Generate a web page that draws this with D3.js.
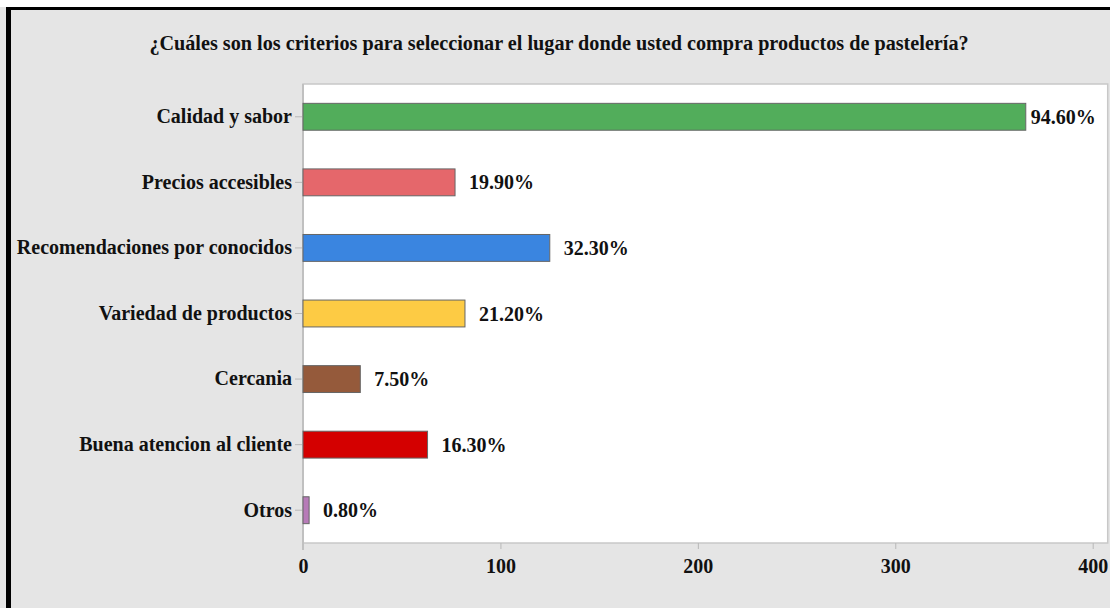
<!DOCTYPE html>
<html>
<head>
<meta charset="utf-8">
<script src="https://cdn.jsdelivr.net/npm/d3@7"></script>
<style>
  html, body { margin: 0; padding: 0; background: #ffffff; }
  svg { display: block; }
  text { font-family: "Liberation Serif", "Times New Roman", serif; font-weight: bold; fill: #111; }
</style>
</head>
<body>
<svg id="chart" width="1110" height="608"></svg>
<script>
// Survey answers: share of respondents choosing each criterion
const title = "¿Cuáles son los criterios para seleccionar el lugar donde usted compra productos de pastelería?";
const categories = [
  "Calidad y sabor",
  "Precios accesibles",
  "Recomendaciones por conocidos",
  "Variedad de productos",
  "Cercania",
  "Buena atencion al cliente",
  "Otros"
];
const percentages = [94.6, 19.9, 32.3, 21.2, 7.5, 16.3, 0.8];
const totalRespondents = 387;
const barColors = ["#52ad5b", "#e5676b", "#3a85e0", "#fdcb44", "#955a3b", "#d40000", "#b77bb8"];
const xTickValues = [0, 100, 200, 300, 400];

const W = 1110, H = 608;
const plot = { left: 303, top: 84, right: 1107.7, bottom: 543 };

const svg = d3.select("#chart");

// Page frame: light gray panel with a dark rule on top and left
svg.append("rect").attr("x", 0).attr("y", 7).attr("width", W).attr("height", H - 7).attr("fill", "#e5e5e5");
svg.append("rect").attr("x", 6).attr("y", 7).attr("width", W - 6).attr("height", 3).attr("fill", "#000");
svg.append("rect").attr("x", 6).attr("y", 7).attr("width", 5).attr("height", H - 7).attr("fill", "#000");

svg.append("text")
  .attr("x", 559).attr("y", 50)
  .attr("text-anchor", "middle")
  .style("font-size", "20.2px")
  .text(title);

const x = d3.scaleLinear().domain([0, 400]).range([plot.left, 1092.7]);
const y = d3.scaleBand().domain(categories).range([plot.top, plot.bottom])
  .paddingInner(0.59).paddingOuter(0.295);

// Plot area
svg.append("rect")
  .attr("x", plot.left).attr("y", plot.top)
  .attr("width", plot.right - plot.left).attr("height", plot.bottom - plot.top)
  .attr("fill", "#fff").attr("stroke", "#c8c8c8").attr("stroke-width", 1.5);

// Axes
const xAxis = svg.append("g")
  .attr("transform", `translate(0,${plot.bottom})`)
  .call(d3.axisBottom(x).tickValues(xTickValues).tickSize(6).tickSizeOuter(0).tickPadding(10).tickFormat(d3.format("d")));
xAxis.select(".domain").remove();
xAxis.selectAll(".tick line").attr("stroke", "#b8b8b8");
xAxis.selectAll(".tick text").style("font-size", "20px").attr("fill", "#111");

const yAxis = svg.append("g")
  .attr("transform", `translate(${plot.left},0)`)
  .call(d3.axisLeft(y).tickSize(8).tickSizeOuter(0).tickPadding(3));
yAxis.select(".domain").remove();
yAxis.selectAll(".tick line").attr("stroke", "#b8b8b8");
yAxis.selectAll(".tick text").style("font-size", "20px").attr("fill", "#111");

// Vertical axis rule running past the plot bottom
svg.append("line")
  .attr("x1", plot.left).attr("x2", plot.left)
  .attr("y1", plot.top).attr("y2", plot.bottom + 7)
  .attr("stroke", "#c0c0c0").attr("stroke-width", 2);

const rows = categories.map((c, i) => ({
  category: c,
  pct: percentages[i],
  count: percentages[i] / 100 * totalRespondents,
  color: barColors[i]
}));

svg.append("g").selectAll("rect")
  .data(rows)
  .join("rect")
  .attr("x", x(0))
  .attr("y", d => y(d.category))
  .attr("width", d => x(d.count) - x(0))
  .attr("height", y.bandwidth())
  .attr("fill", d => d.color)
  .attr("stroke", "#666")
  .attr("stroke-width", 1);

// Value labels after each bar, kept inside the plot area
const labels = svg.append("g").selectAll("text")
  .data(rows)
  .join("text")
  .attr("y", d => y(d.category) + y.bandwidth() / 2)
  .attr("dy", "0.35em")
  .style("font-size", "20px")
  .text(d => d.pct.toFixed(2) + "%");

labels.each(function(d) {
  const t = d3.select(this);
  const w = this.getComputedTextLength();
  const limit = plot.right - 14;
  let xs = x(d.count) + 14;
  if (xs + w > limit) xs = Math.max(x(d.count) + 5, limit - w);
  t.attr("x", xs);
});
</script>
</body>
</html>
